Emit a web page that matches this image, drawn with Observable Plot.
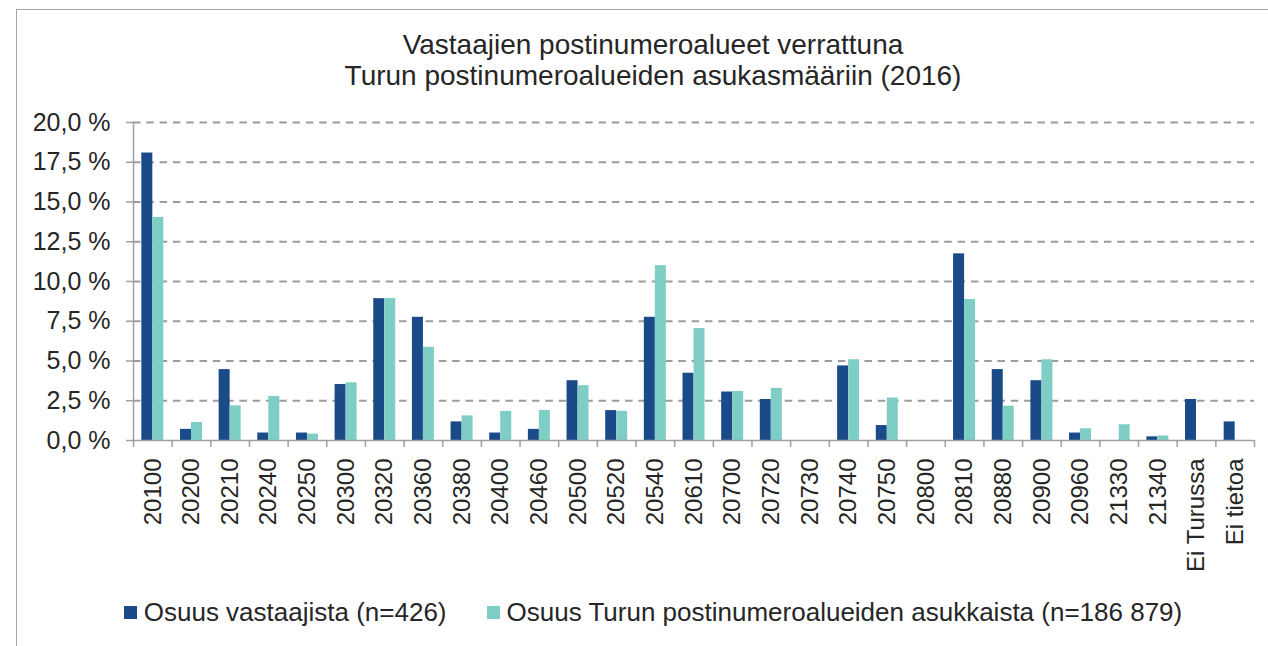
<!DOCTYPE html>
<html>
<head>
<meta charset="utf-8">
<script src="https://cdn.jsdelivr.net/npm/d3@7"></script>
<script src="https://cdn.jsdelivr.net/npm/@observablehq/plot@0.6"></script>
<style>
  html, body { margin: 0; padding: 0; background: #fff; overflow: hidden; }
  body { font-family: "Liberation Sans", Arial, sans-serif; color: #262626; width: 1268px; height: 646px; position: relative; }
  #frame { position: absolute; left: 16px; top: 9px; width: 1320px; height: 720px; border: 1.5px solid #a6a6a6; box-sizing: border-box; }
  #title { position: absolute; left: 16px; width: 1274px; top: 29px; text-align: center; font-size: 28px; line-height: 31px; }
  #chart { position: absolute; left: 0; top: 95px; }
  #legend { position: absolute; left: 16px; width: 1274px; top: 597px; height: 30px; display: flex; justify-content: center; align-items: center; font-size: 26px; line-height: 30px; }
  .sw { display: inline-block; width: 13px; height: 13px; margin-right: 7px; }
  .item { display: flex; align-items: center; }
  .item + .item { margin-left: 40px; }
</style>
</head>
<body>
<div id="frame"></div>
<div id="title"></div>
<div id="chart"></div>
<div id="legend"></div>
<script>
const titleLines = ["Vastaajien postinumeroalueet verrattuna", "Turun postinumeroalueiden asukasmääriin (2016)"];
const categories = ["20100","20200","20210","20240","20250","20300","20320","20360","20380","20400","20460","20500","20520","20540","20610","20700","20720","20730","20740","20750","20800","20810","20880","20900","20960","21330","21340","Ei Turussa","Ei tietoa"];
const seriesNames = ["Osuus vastaajista (n=426)", "Osuus Turun postinumeroalueiden asukkaista (n=186 879)"];
const seriesColors = ["#1B4A89", "#7FCEC6"];
const respondents = [18.08, 0.70, 4.46, 0.47, 0.47, 3.52, 8.92, 7.75, 1.17, 0.47, 0.70, 3.76, 1.88, 7.75, 4.23, 3.05, 2.58, 0, 4.69, 0.94, 0, 11.74, 4.46, 3.76, 0.47, 0, 0.23, 2.58, 1.17];
const population = [14.03, 1.13, 2.18, 2.77, 0.40, 3.63, 8.93, 5.86, 1.55, 1.83, 1.89, 3.45, 1.83, 11.00, 7.04, 3.09, 3.28, 0, 5.08, 2.67, 0, 8.87, 2.16, 5.08, 0.74, 0.99, 0.29, 0, 0];
const yTicks = [0, 2.5, 5, 7.5, 10, 12.5, 15, 17.5, 20];

document.getElementById("title").innerHTML = titleLines.map(t => `<div>${t}</div>`).join("");
document.getElementById("legend").innerHTML = seriesNames.map((s, i) =>
  `<span class="item"><span class="sw" style="background:${seriesColors[i]}"></span><span>${s}</span></span>`).join("");

const rows = [];
categories.forEach((c, i) => {
  rows.push({category: c, series: seriesNames[0], value: respondents[i]});
  rows.push({category: c, series: seriesNames[1], value: population[i]});
});

const W = 1268, H = 500, mL = 133, mR = 14, mT = 27, mB = 155;
const step = (W - mL - mR) / categories.length;
const bw = 11;
const axisColor = "#a0a0a0";
const fmt = d => d.toFixed(1).replace(".", ",") + " %";

const chart = Plot.plot({
  width: W, height: H,
  marginLeft: mL, marginRight: mR, marginTop: mT, marginBottom: mB,
  style: { fontFamily: "'Liberation Sans', Arial, sans-serif", fontSize: "24px", color: "#262626", background: "transparent", overflow: "visible" },
  x: { domain: categories, padding: 0, round: false, axis: null, label: null },
  y: { domain: [0, 20], axis: null, label: null },
  marks: [
    Plot.ruleY(yTicks.filter(d => d > 0), { stroke: "#9c9c9c", strokeWidth: 2, strokeDasharray: "7.5,5.8" }),
    Plot.barY(rows.filter(d => d.series === seriesNames[0] && d.value > 0), {
      x: "category", y: "value", fill: seriesColors[0],
      insetLeft: step / 2 - bw, insetRight: step / 2
    }),
    Plot.barY(rows.filter(d => d.series === seriesNames[1] && d.value > 0), {
      x: "category", y: "value", fill: seriesColors[1],
      insetLeft: step / 2, insetRight: step / 2 - bw
    }),
    Plot.ruleY([0], { stroke: axisColor, strokeWidth: 1.5 }),
    Plot.ruleX([categories[0]], { x: d => d, dx: -step / 2, y1: 0, y2: 20, stroke: axisColor, strokeWidth: 1.5 }),
    Plot.ruleX(categories, { x: d => d, dx: -step / 2, y1: 0, y2: 0, insetBottom: -7, stroke: axisColor, strokeWidth: 1.5 }),
    Plot.ruleX([categories[categories.length - 1]], { x: d => d, dx: step / 2, y1: 0, y2: 0, insetBottom: -7, stroke: axisColor, strokeWidth: 1.5 }),
    Plot.axisY({ ticks: yTicks, tickSize: 7, tickPadding: 16, tickFormat: fmt, stroke: axisColor, strokeWidth: 1.5, fill: "#262626", fontSize: 25, label: null }),
    Plot.axisX({ tickSize: 0, tickRotate: -90, tickPadding: 18, fill: "#262626", fontSize: 24, label: null })
  ]
});
document.getElementById("chart").appendChild(chart);
</script>
</body>
</html>
